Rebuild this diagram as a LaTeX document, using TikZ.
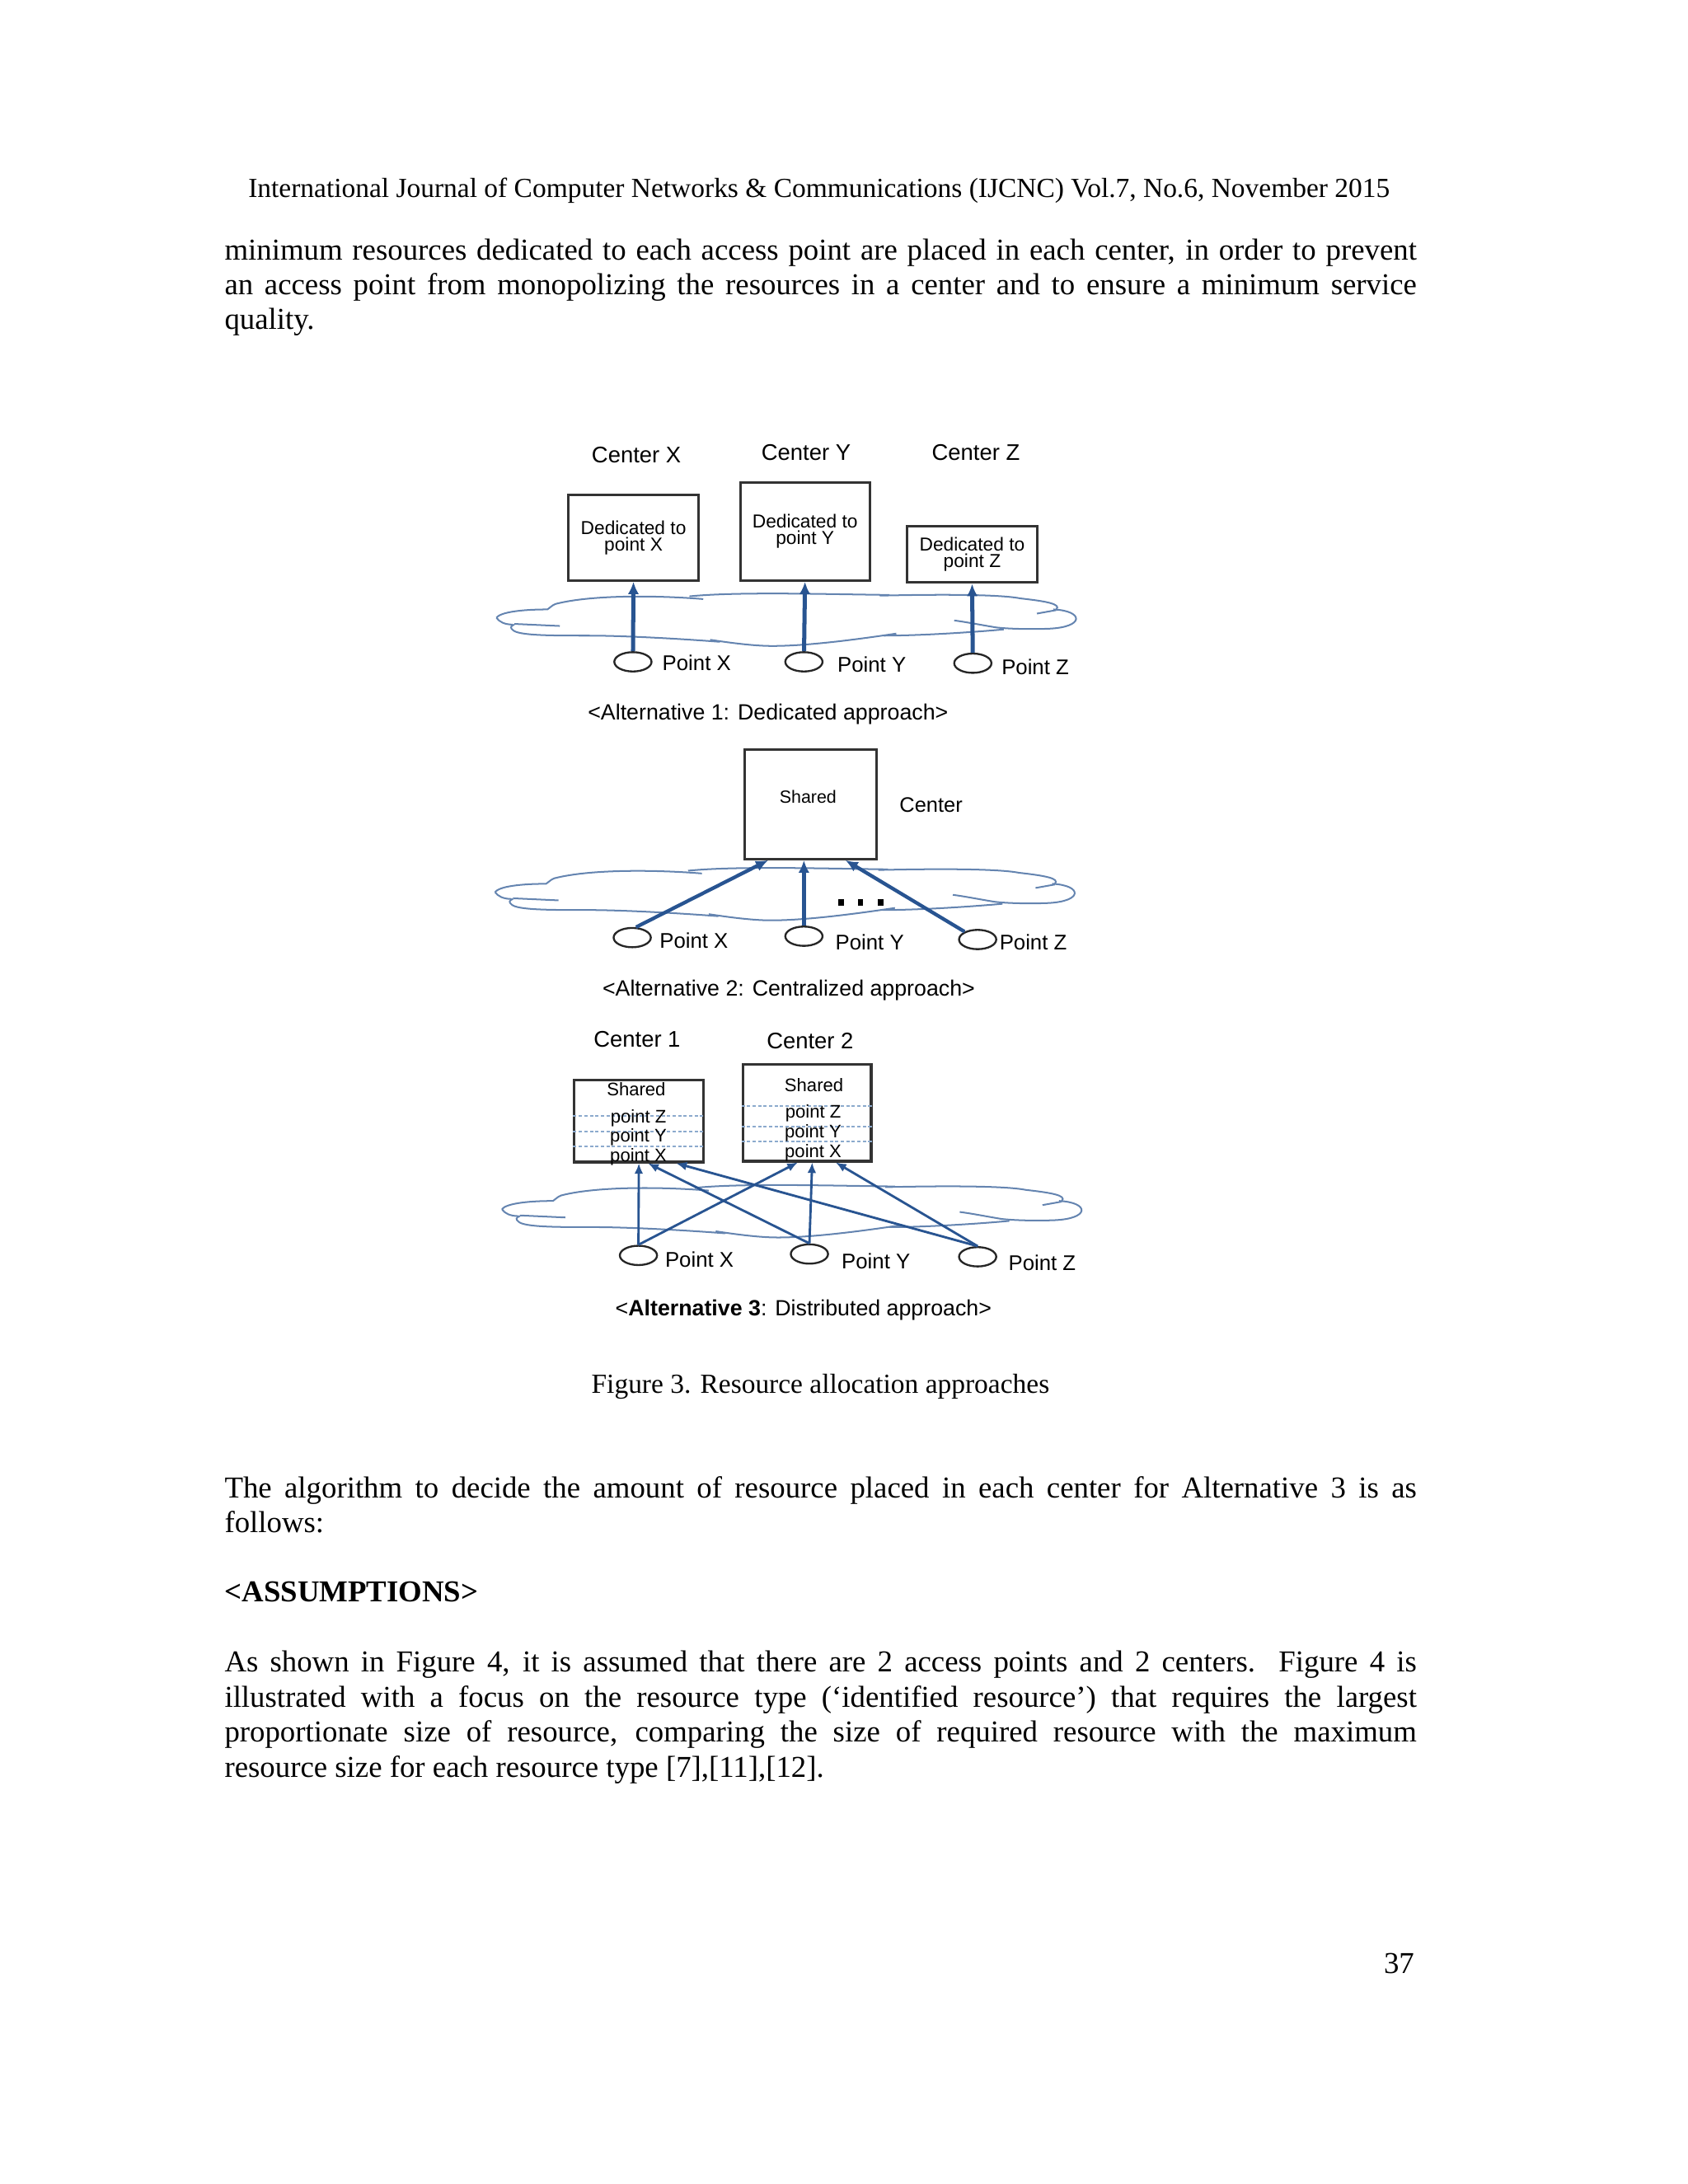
\documentclass[tikz,border=0pt]{standalone}
\usepackage{fontspec}
\setmainfont{Liberation Serif}
\newfontfamily\diagfont{Liberation Sans}
\usetikzlibrary{arrows.meta, shapes.geometric, calc, positioning}
\definecolor{arrowblue}{RGB}{40,84,145}
\definecolor{cloudblue}{RGB}{100,132,176}
\definecolor{sepblue}{RGB}{140,170,205}

% one justified line of the body text
\newcommand{\jline}[1]{\makebox[432.25pt][s]{#1}}

\tikzset{
  netcloud/.pic={
    % flat network cloud, left tip at the origin
    \draw[cloudline] (0,0) .. controls (3,-4) and (18,-6) .. (37,-6)
      .. controls (39,-7) and (40,-9) .. (43,-10)
      .. controls (70,-17) and (120,-16) .. (150,-13.5);
    \draw[cloudline] (140,-15.5) .. controls (175,-19) and (240,-17) .. (285,-16.5);
    \draw[cloudline] (278,-16) .. controls (320,-17) and (365,-17) .. (380,-14)
      .. controls (398,-12) and (410,-10) .. (406,-6);
    \draw[cloudline] (404,-6) .. controls (426,-5) and (427,7) .. (400,8)
      .. controls (385,8.5) and (370,8) .. (362,7)
      .. controls (350,5) and (340,3) .. (332,2);
    \draw[cloudline] (392,-3) -- (406,-5.5);
    \draw[cloudline] (368,8.5) .. controls (340,11) and (305,13) .. (281,13);
    \draw[cloudline] (290,11.5) .. controls (260,16) and (225,20.5) .. (200,20.5)
      .. controls (185,20.5) and (165,17.5) .. (155,16);
    \draw[cloudline] (162,17.5) .. controls (130,15) and (90,13) .. (67,13)
      .. controls (40,13) and (16,13) .. (12,9)
      .. controls (10,7.5) and (10,6) .. (13,5);
    \draw[cloudline] (0,0) .. controls (2,3) and (6,5) .. (12,5);
    \draw[cloudline] (13,4.5) -- (46,6);
  }
}

\begin{document}
\begin{tikzpicture}[x=0.5pt, y=-0.5pt,
  body/.style={anchor=mid west, inner sep=0pt, font=\fontsize{11}{12.5}\selectfont},
  small/.style={anchor=mid, inner sep=0pt, font=\fontsize{10}{12}\selectfont},
  resbox/.style={draw=black!80, line width=0.9pt, fill=white, inner sep=0pt, minimum width=47pt,
    align=center, font=\diagfont\fontsize{6.8}{6}\selectfont},
  boxtxt/.style={inner sep=0pt, align=center, font=\diagfont\fontsize{6.6}{6}\selectfont},
  ctrtxt/.style={inner sep=0pt, font=\diagfont\fontsize{8.2}{10}\selectfont},
  ptxt/.style={anchor=west, inner sep=0pt, font=\diagfont\fontsize{7.7}{9}\selectfont},
  capt/.style={inner sep=0pt, font=\diagfont\fontsize{8}{10}\selectfont},
  apoint/.style={ellipse, draw=black!85, line width=0.7pt, fill=white, minimum width=13.5pt,
    minimum height=7pt, inner sep=0pt},
  cloudline/.style={draw=cloudblue, line width=0.6pt},
  sepline/.style={draw=sepblue, line width=0.6pt, dash pattern=on 1.2pt off 0.8pt},
  flow/.style={draw=arrowblue, line width=1.5pt, -{Latex[length=4.5pt,width=4pt]}},
  flowc/.style={draw=arrowblue, line width=1.3pt, -{Latex[length=4.5pt,width=4pt]}},
  flowd/.style={draw=arrowblue, line width=0.85pt, -{Latex[length=3.8pt,width=3.2pt]}}
]
\useasboundingbox (0,0) rectangle (1224,1584);

% page header and text above the figure
\node[small] (hdr) at (594,138.5) {International Journal of Computer Networks \& Communications (IJCNC) Vol.7, No.6, November 2015};
\node[body] (t1) at (162.5,184) {\jline{minimum resources dedicated to each access point are placed in each center, in order to prevent}};
\node[body] (t2) at (162.5,209) {\jline{an access point from monopolizing the resources in a center and to ensure a minimum service}};
\node[body] (t3) at (162.5,234) {quality.};

% Alternative 1: dedicated
\pic at (360,448) {netcloud};
\node[ctrtxt] (lx1) at (461.5,330) {Center X};
\node[ctrtxt] (ly1) at (584.6,328) {Center Y};
\node[ctrtxt] (lz1) at (707.7,328) {Center Z};
\node[resbox, minimum height=31pt] (cx1) at (459.4,390) {Dedicated to\\point X};
\node[resbox, minimum height=35.5pt] (cy1) at (583.8,385.5) {Dedicated to\\point Y};
\node[resbox, minimum height=20.5pt] (cz1) at (705,402) {Dedicated to\\point Z};
\node[apoint] (px1) at (459,480) {};
\node[apoint] (py1) at (583,480) {};
\node[apoint] (pz1) at (705.5,481) {};
\node[ptxt] at (480,481) {Point X};
\node[ptxt] at (607,482) {Point Y};
\node[ptxt] at (726,484) {Point Z};
\draw[flow] (px1) -- (cx1.south);
\draw[flow] (py1) -- (cy1.south);
\draw[flow] (pz1) -- (cz1.south);
\node[capt] (cap1) at (557,518) {<Alternative 1: Dedicated approach>};

% Alternative 2: centralized
\pic at (359,647) {netcloud};
\node[draw=black!80, line width=0.9pt, fill=white, minimum width=47.8pt, minimum height=39.75pt] (sh2) at (587.8,583.25) {};
\node[boxtxt, font=\diagfont\fontsize{6.4}{6}\selectfont] at (586,578) {Shared};
\node[ctrtxt, anchor=west, font=\diagfont\fontsize{7.6}{9}\selectfont] (lc2) at (652,584) {Center};
\node[apoint] (px2) at (458.5,680) {};
\node[apoint] (py2) at (583,679) {};
\node[apoint] (pz2) at (709,681.4) {};
\node[ptxt] at (478,682) {Point X};
\node[ptxt] at (605.5,683.6) {Point Y};
\node[ptxt] at (724.5,683.6) {Point Z};
\draw[flowc] (px2.70) -- ($(sh2.south west)!0.185!(sh2.south east)$);
\draw[flowc] (py2) -- (py2 |- sh2.south);
\draw[flowc] (pz2) -- ($(sh2.south west)!0.76!(sh2.south east)$);
\foreach \dx in {610,624,638.5}
  \fill (\dx-2,652) rectangle (\dx+2,657);
\node[capt] (cap2) at (572,718) {<Alternative 2: Centralized approach>};

% Alternative 3: distributed
\pic at (364,877) {netcloud};
\node[ctrtxt] (l13) at (462,754) {Center 1};
\node[ctrtxt] (l23) at (587.5,755) {Center 2};
\node[draw=black!80, line width=0.9pt, fill=white, minimum width=46.7pt, minimum height=29.7pt] (sb1) at (463.3,813.1) {};
\node[draw=black!80, line width=0.9pt, fill=white, minimum width=46.6pt, minimum height=35.1pt] (sb2) at (585.2,807.1) {};
\foreach \yy in {809.3,820.5,831.5}
  \draw[sepline] (sb1.west |- 0,\yy) -- (sb1.east |- 0,\yy);
\foreach \yy in {802,817,828}
  \draw[sepline] (sb2.west |- 0,\yy) -- (sb2.east |- 0,\yy);
\node[boxtxt] at (461.4,790) {Shared};
\node[boxtxt] at (463,825) {point Z\\point Y\\point X};
\node[boxtxt] at (590.3,787) {Shared};
\node[boxtxt] at (589.7,821.7) {point Z\\point Y\\point X};
\node[apoint] (px3) at (463,910.5) {};
\node[apoint] (py3) at (587,909.5) {};
\node[apoint] (pz3) at (709,911.5) {};
\node[ptxt] at (482,913.5) {Point X};
\node[ptxt] at (610,914.5) {Point Y};
\node[ptxt] at (731,916) {Point Z};
\draw[flowd] (px3.north) -- (sb1.south);
\draw[flowd] (px3.north) -- ($(sb2.south west)!0.43!(sb2.south east)$);
\draw[flowd] (py3.north) -- ($(sb2.south west)!0.54!(sb2.south east)$);
\draw[flowd] (py3.north) -- ($(sb1.south west)!0.57!(sb1.south east)$);
\draw[flowd] (pz3.north) -- ($(sb1.south west)!0.785!(sb1.south east)$);
\draw[flowd] (pz3.north) -- ($(sb2.south west)!0.72!(sb2.south east)$);
\node[capt] (cap3) at (582.7,950) {<\textbf{Alternative 3}: Distributed approach>};

% caption and text below the figure
\node[small] (figcap) at (595,1006) {Figure 3. Resource allocation approaches};
\node[body] (u1) at (162.5,1082) {\jline{The algorithm to decide the amount of resource placed in each center for Alternative 3 is as}};
\node[body] (u2) at (162.5,1107) {follows:};
\node[body] (asm) at (162.5,1157) {\textbf{<ASSUMPTIONS>}};
\node[body] (v1) at (162.5,1208) {\jline{As shown in Figure 4, it is assumed that there are 2 access points and 2 centers.\ \ Figure 4 is}};
\node[body] (v2) at (162.5,1233.5) {\jline{illustrated with a focus on the resource type (‘identified resource’) that requires the largest}};
\node[body] (v3) at (162.5,1259) {\jline{proportionate size of resource, comparing the size of required resource with the maximum}};
\node[body] (v4) at (162.5,1284.5) {resource size for each resource type [7],[11],[12].};
\node[anchor=base east, inner sep=0pt, font=\fontsize{11}{12}\selectfont] (pgno) at (1026,1431) {37};
\end{tikzpicture}
\end{document}
